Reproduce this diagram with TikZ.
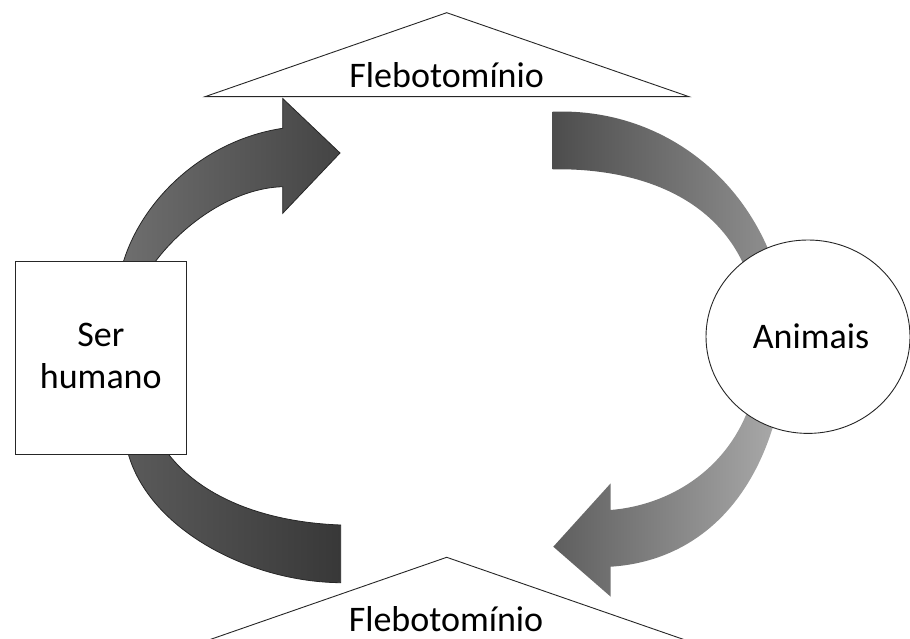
\documentclass[tikz,border=0pt]{standalone}
\usepackage{fontspec}
\setmainfont{Carlito}
\usetikzlibrary{shapes.geometric}
\definecolor{aoneL}{HTML}{6E6E6E}
\definecolor{aoneR}{HTML}{444444}
\definecolor{atwoL}{HTML}{4D4D4D}
\definecolor{atwoR}{HTML}{8E8E8E}
\definecolor{athrL}{HTML}{5E5E5E}
\definecolor{athrR}{HTML}{A8A8A8}
\definecolor{afouL}{HTML}{5A5A5A}
\definecolor{afouR}{HTML}{383838}
\tikzset{
  outl/.style={draw=black!85, line width=0.8pt},
  shape box/.style={draw=black!85, line width=0.9pt, fill=white},
  lbl/.style={anchor=base, inner sep=0pt, font=\fontsize{36}{42}\selectfont},
}
\begin{document}
\begin{tikzpicture}[x=1pt,y=-1pt]
\useasboundingbox (0,0) rectangle (910,639);
% arrow 1: Ser humano -> Flebotominio (top)
\path[outl, left color=aoneL, right color=aoneR]
  (123.3,262) .. controls (143,198) and (205,140) .. (282.7,128.3)
  -- (282.7,98.5) -- (340,153) -- (282.7,213.3) -- (282.7,186.7)
  .. controls (235,188) and (185,222) .. (155,262) -- cycle;
% arrow 2: Flebotominio (top) -> Animais
\path[left color=atwoL, right color=atwoR]
  (552.7,111.7) .. controls (650,108) and (735,165) .. (771,256)
  -- (746,270) .. controls (715,195) and (635,168) .. (552.7,169.3) -- cycle;
% arrow 3: Animais -> Flebotominio (bottom)
\path[left color=athrL, right color=athrR]
  (610.7,510) -- (610.7,483.3) -- (553.3,546.7) -- (610.7,596.7) -- (610.7,566.7)
  .. controls (685,562) and (748,515) .. (775,420)
  -- (748,410) .. controls (725,470) and (670,505) .. (610.7,510) -- cycle;
% arrow 4: Flebotominio (bottom) -> Ser humano
\path[outl, left color=afouL, right color=afouR]
  (128.3,454) .. controls (150,530) and (250,582) .. (340.7,582.7)
  -- (340.7,525) .. controls (260,522) and (200,495) .. (168.3,454) -- cycle;
% nodes
\node[shape box, rectangle, minimum width=171.7pt, minimum height=193pt, inner sep=0pt] (human) at (100.8,357.5) {};
\node[lbl] (humanA) at (100.8,346.7) {Ser};
\node[lbl] (humanB) at (100.8,388) {humano};
\node[shape box, ellipse, minimum width=204pt, minimum height=193.4pt, inner sep=0pt] (anim) at (808,336.7) {};
\node[lbl] (animT) at (811,348.3) {Animais};
\draw[shape box] (205,96.7) -- (446.7,12.7) -- (689,96.7) -- cycle;
\node[lbl] (flebTop) at (446.7,87.3) {Flebotomínio};
\draw[shape box] (205,641.3) -- (446.7,557.3) -- (689,641.3) -- cycle;
\node[lbl] (flebBot) at (446,631.7) {Flebotomínio};
\end{tikzpicture}
\end{document}
